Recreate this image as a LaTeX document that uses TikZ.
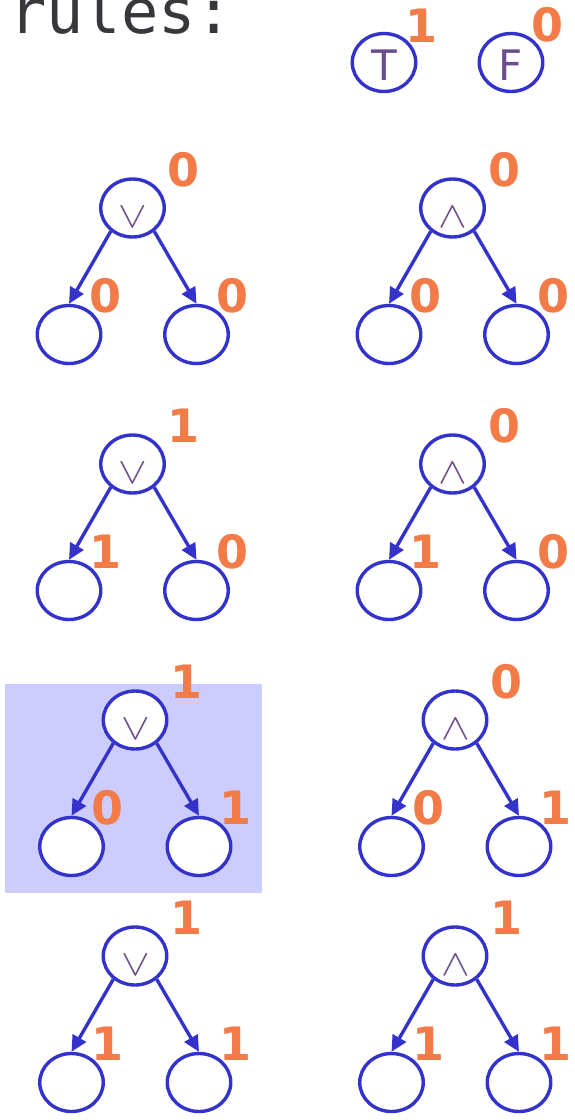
\documentclass[tikz,border=0pt]{standalone}
\usepackage{fontspec}
\setmainfont{DejaVu Sans}
\newfontfamily\monofont{DejaVu Sans Mono}
\usetikzlibrary{arrows.meta,shapes.geometric}
\definecolor{nodeblue}{HTML}{3333CC}
\definecolor{laborange}{HTML}{F27B47}
\definecolor{oppurple}{HTML}{6B4C8C}
\definecolor{hlblue}{HTML}{CCCCFF}
\definecolor{titlegray}{HTML}{38373C}
\newcommand\optree[7]{%
  \node[treenode] (#1r) at (#2,#3) {};
  \node[optext] (#1s) at ({#2+0.5},{#3+19}) {\scalebox{4.3}[3.7]{$#4$}};
  \node[vallab] (#1rv) at ({#2+51.5},{#3-21.5}) {#5};
  \node[treenode] (#1a) at ({#2-63.5},{#3+126.5}) {};
  \node[treenode] (#1b) at ({#2+64},{#3+126.5}) {};
  \node[vallab] (#1av) at ({#2-63.5+36.5},{#3+126.5-22}) {#6};
  \node[vallab] (#1bv) at ({#2+64+36.5},{#3+126.5-22}) {#7};
  \draw[treeedge] (#1r.-133) -- (#1a.north);
  \draw[treeedge] (#1r.-47) -- (#1b.north);
}
\begin{document}
\begin{tikzpicture}[x=1pt,y=-1pt,
  treenode/.style={ellipse,minimum width=63.5pt,minimum height=58pt,inner sep=0pt,draw=nodeblue,line width=3.4pt,fill=white},
  optext/.style={text=oppurple,anchor=base,inner sep=0pt},
  lettext/.style={text=oppurple,font=\fontsize{42}{42}\selectfont,anchor=base,inner sep=0pt},
  vallab/.style={text=laborange,font=\fontsize{46}{46}\selectfont\bfseries,anchor=base,inner sep=0pt},
  treeedge/.style={draw=nodeblue,line width=3.4pt,-{Triangle[length=16pt,width=15pt]}}
]
\useasboundingbox (0,0) rectangle (574,1120);
\fill[hlblue] (5,684) rectangle (262,893);
\node[anchor=base west,inner sep=0pt,font=\monofont\fontsize{62}{62}\selectfont,text=titlegray] (title) at (9,33.5) {rules:};
% constants
\node[treenode] (tnode) at (384,62.5) {};
\node[lettext] (tlet) at (384,80) {T};
\node[vallab] (tval) at (421,42) {1};
\node[treenode] (fnode) at (511,62.5) {};
\node[lettext] (flet) at (511,80) {F};
\node[vallab] (fval) at (547.5,41.5) {0};
% trees
\optree{la}{132.5}{208}{\vee}{0}{0}{0}
\optree{ra}{452.5}{208}{\wedge}{0}{0}{0}
\optree{lb}{132.5}{464}{\vee}{1}{1}{0}
\optree{rb}{452.5}{464}{\wedge}{0}{1}{0}
\optree{lc}{135}{720}{\vee}{1}{0}{1}
\optree{rc}{455}{720}{\wedge}{0}{0}{1}
\optree{ld}{135}{956}{\vee}{1}{1}{1}
\optree{rd}{455}{956}{\wedge}{1}{1}{1}
\end{tikzpicture}
\end{document}
